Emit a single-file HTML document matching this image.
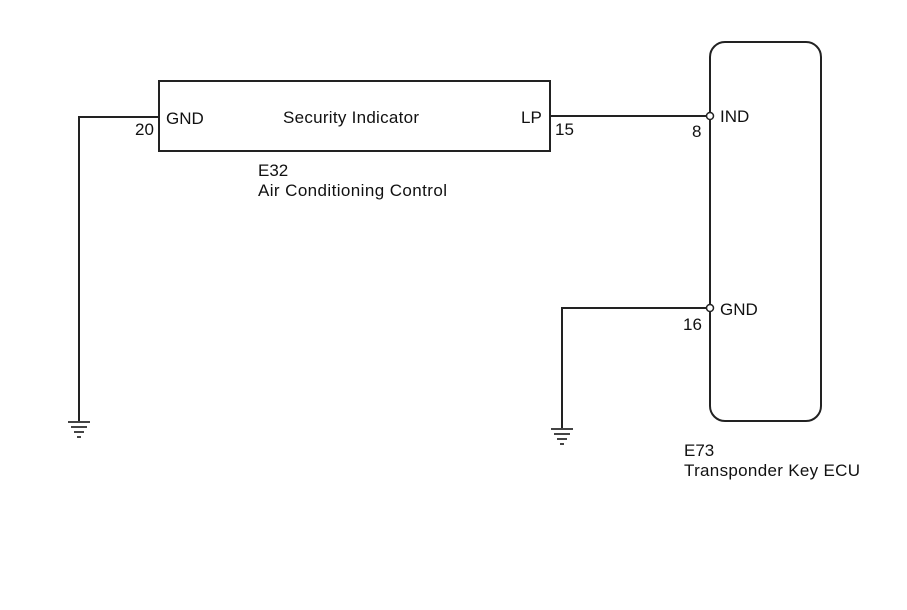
<!DOCTYPE html>
<html><head><style>body{margin:0;background:#fff}svg{display:block}</style></head><body>
<svg width="907" height="610" viewBox="0 0 907 610" xmlns="http://www.w3.org/2000/svg" font-family="Liberation Sans, sans-serif" font-size="17" fill="#111">
<g stroke="#222" stroke-width="2" fill="none">
<rect x="159" y="81" width="391" height="70"/>
<rect x="710" y="42" width="111" height="379" rx="15"/>
<polyline points="159,117 79,117 79,422"/>
<line x1="550" y1="116" x2="706" y2="116"/>
<polyline points="706,308 562,308 562,428"/>
</g>
<g stroke="#444" stroke-width="2">
<line x1="68" y1="422" x2="90" y2="422"/><line x1="71" y1="427" x2="87" y2="427"/><line x1="74" y1="432" x2="84" y2="432"/><line x1="77" y1="437" x2="81" y2="437"/>
<line x1="551" y1="429" x2="573" y2="429"/><line x1="554" y1="434" x2="570" y2="434"/><line x1="557" y1="439" x2="567" y2="439"/><line x1="560" y1="444" x2="564" y2="444"/>
</g>
<circle cx="710" cy="116" r="3.5" fill="#fff" stroke="#222" stroke-width="1.5"/>
<circle cx="710" cy="308" r="3.5" fill="#fff" stroke="#222" stroke-width="1.5"/>
<text x="166" y="124">GND</text>
<text x="135" y="135">20</text>
<text x="283" y="123" textLength="136">Security Indicator</text>
<text x="521" y="123">LP</text>
<text x="555" y="135">15</text>
<text x="258" y="176">E32</text>
<text x="258" y="196" textLength="189">Air Conditioning Control</text>
<text x="720" y="122">IND</text>
<text x="692" y="137">8</text>
<text x="720" y="315">GND</text>
<text x="683" y="330">16</text>
<text x="684" y="456">E73</text>
<text x="684" y="476" textLength="176">Transponder Key ECU</text>
</svg>
</body></html>
